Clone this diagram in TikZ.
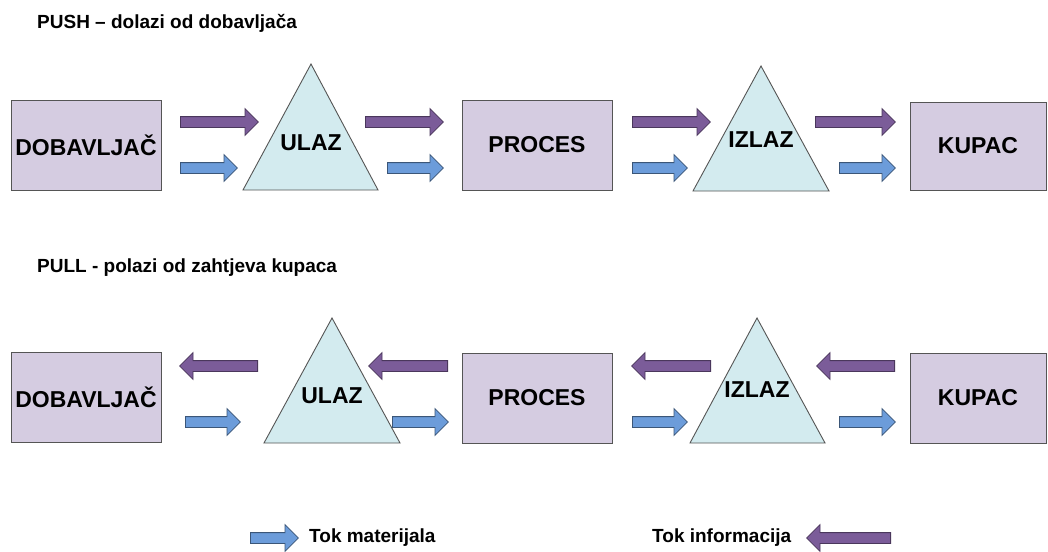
\documentclass[tikz,border=0pt]{standalone}
\usepackage{fontspec}
\setmainfont{Liberation Sans}
\usetikzlibrary{shapes.arrows}

\definecolor{kutija}{HTML}{D5CCE1}
\definecolor{trokutboja}{HTML}{D3EBEF}
\definecolor{ljubicasta}{HTML}{7B5C99}
\definecolor{plava}{HTML}{6C9CDA}
\definecolor{rub}{HTML}{555555}

\tikzset{
  blok/.style={draw=rub, line width=0.9pt, fill=kutija, minimum width=150pt, minimum height=90pt,
    font=\fontsize{23}{23}\selectfont\bfseries},
  trokut/.style={draw=rub, line width=0.9pt, fill=trokutboja, line join=miter},
  oznaka/.style={font=\fontsize{23}{23}\selectfont\bfseries, inner sep=0pt},
  naslov/.style={font=\fontsize{19}{19}\selectfont\bfseries, inner sep=0pt, anchor=west},
  tok/.style={single arrow, single arrow head extend=8pt, inner xsep=0pt, inner ysep=5pt,
    line width=0.8pt, anchor=tail},
  info/.style={tok, draw=ljubicasta!60!black, fill=ljubicasta},
  materijal/.style={tok, draw=plava!55!black, fill=plava}
}

\begin{document}
\begin{tikzpicture}[x=1pt,y=-1pt]
\useasboundingbox (0,0) rectangle (1048,551);
\fill[white] (0,0) rectangle (1048,551);

% PUSH
\node[naslov] (push) at (37,23) {PUSH – dolazi od dobavljača};
\node[blok] (dobA) at (86,145) {DOBAVLJAČ};
\draw[trokut] (243,190) -- (311,64) -- (378,190) -- cycle;
\node[oznaka] (ulazA) at (311,143) {ULAZ};
\node[blok] (procA) at (537,145) {PROCES};
\draw[trokut] (693,191) -- (761,66) -- (829,191) -- cycle;
\node[oznaka] (izlazA) at (761,140) {IZLAZ};
\node[blok, minimum width=136pt, minimum height=88pt] (kupA) at (978,146) {KUPAC};

\node[info, minimum height=78pt] (iA1) at (180,122) {};
\node[info, minimum height=78pt] (iA2) at (365,122) {};
\node[info, minimum height=78pt] (iA3) at (632,122) {};
\node[info, minimum height=80pt] (iA4) at (815,122) {};
\node[materijal, minimum height=57pt] (mA1) at (180,168) {};
\node[materijal, minimum height=56pt] (mA2) at (387,168) {};
\node[materijal, minimum height=55pt] (mA3) at (632,168) {};
\node[materijal, minimum height=56pt] (mA4) at (839,168) {};

% PULL
\node[naslov] (pull) at (37,268) {PULL - polazi od zahtjeva kupaca};
\node[blok] (dobB) at (86,397) {DOBAVLJAČ};
\draw[trokut] (264,443) -- (332,318) -- (400,443) -- cycle;
\node[oznaka] (ulazB) at (332,396) {ULAZ};
\node[blok] (procB) at (537,398) {PROCES};
\draw[trokut] (690,443) -- (757,318) -- (825,443) -- cycle;
\node[oznaka] (izlazB) at (757,390) {IZLAZ};
\node[blok, minimum width=136pt] (kupB) at (978,398) {KUPAC};

\node[info, shape border rotate=180, minimum height=78pt] (iB1) at (258,366) {};
\node[info, shape border rotate=180, minimum height=79pt] (iB2) at (448,366) {};
\node[info, shape border rotate=180, minimum height=79pt] (iB3) at (711,366) {};
\node[info, shape border rotate=180, minimum height=78pt] (iB4) at (895,366) {};
\node[materijal, minimum height=55pt] (mB1) at (185,422) {};
\node[materijal, minimum height=56pt] (mB2) at (392,422) {};
\node[materijal, minimum height=55pt] (mB3) at (632,422) {};
\node[materijal, minimum height=56pt] (mB4) at (839,422) {};

% legenda
\node[materijal, minimum height=48pt] (legM) at (250,538) {};
\node[naslov] (legMtxt) at (309,538) {Tok materijala};
\node[naslov] (legItxt) at (652,538) {Tok informacija};
\node[info, shape border rotate=180, minimum height=84pt] (legI) at (891,538) {};
\end{tikzpicture}
\end{document}
